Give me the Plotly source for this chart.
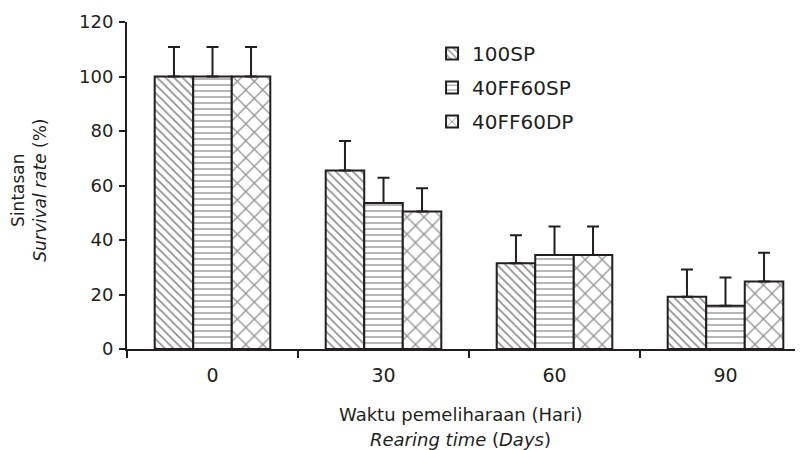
import plotly.graph_objects as go

categories = ["0", "30", "60", "90"]
series_names = ["100SP", "40FF60SP", "40FF60DP"]
sp100 = [100, 65.5, 31.5, 19.2]
ff60sp = [100, 53.6, 34.5, 15.9]
ff60dp = [100, 50.5, 34.5, 24.8]
err_sp100 = [10.8, 10.8, 10.2, 10.0]
err_ff60sp = [10.8, 9.2, 10.5, 10.3]
err_ff60dp = [10.8, 8.5, 10.5, 10.5]
y_ticks = [0, 20, 40, 60, 80, 100, 120]

values = [sp100, ff60sp, ff60dp]
errors = [err_sp100, err_ff60sp, err_ff60dp]
shapes = ["\\", "-", "x"]
psizes = [6, 6, 12]
solid = [0.3, 0.22, 0.2]

ink = "#231f20"
font = "DejaVu Sans"

fig = go.Figure()
for i, (name, v, e, sh, ps, so) in enumerate(zip(series_names, values, errors, shapes, psizes, solid)):
    fig.add_trace(go.Bar(
        name=name, x=categories, y=v, legendgroup=f"g{i}",
        marker=dict(color="white", line=dict(color=ink, width=2),
                    pattern=dict(shape=sh, fgcolor="#222222", bgcolor="white",
                                 size=ps, solidity=so, fillmode="overlay")),
        error_y=dict(type="data", array=e, arrayminus=[0]*len(e), symmetric=False,
                     color=ink, thickness=2, width=6),
    ))

fig.update_layout(
    width=803, height=450,
    margin=dict(l=119, r=0, t=14, b=109),
    paper_bgcolor="white", plot_bgcolor="white",
    barmode="group", bargap=0.324, bargroupgap=0,
    font=dict(family=font, size=17, color=ink),
    showlegend=True,
    legend=dict(x=0.446, y=0.963, xanchor="left", yanchor="top",
                font=dict(size=20, family=font, color=ink),
                bgcolor="rgba(0,0,0,0)", itemwidth=30, tracegroupgap=5),
    xaxis=dict(type="category", range=[-0.5, 3.5], showline=True, linecolor=ink,
               linewidth=2, ticks="outside", tickson="boundaries", ticklen=7,
               tickwidth=2, tickcolor=ink, showgrid=False, zeroline=False,
               automargin=False,
               tickfont=dict(size=19, family=font, color=ink), ticklabelstandoff=8),
    yaxis=dict(range=[0, 120], tickvals=y_ticks, showline=True, linecolor=ink,
               linewidth=2, ticks="outside", ticklen=6, tickwidth=2, tickcolor=ink,
               showgrid=False, zeroline=False, automargin=False,
               tickfont=dict(size=18, family=font, color=ink), ticklabelstandoff=2),
)

fig.add_annotation(text="Waktu pemeliharaan (Hari)",
                   xref="paper", yref="paper", x=0.488, y=-0.199, xanchor="center",
                   yanchor="middle", showarrow=False,
                   font=dict(size=18, family=font, color=ink))
fig.add_annotation(text="<i>Rearing time</i> (<i>Days</i>)",
                   xref="paper", yref="paper", x=0.488, y=-0.278, xanchor="center",
                   yanchor="middle", showarrow=False,
                   font=dict(size=18, family=font, color=ink))
fig.add_annotation(text="Sintasan<br><i>Survival rate</i> (%)",
                   xref="paper", yref="paper", x=-0.11, y=0.486, xanchor="right",
                   yanchor="middle", showarrow=False, textangle=-90, align="center",
                   font=dict(size=17, family=font, color=ink))

fig.write_html("out.html")
